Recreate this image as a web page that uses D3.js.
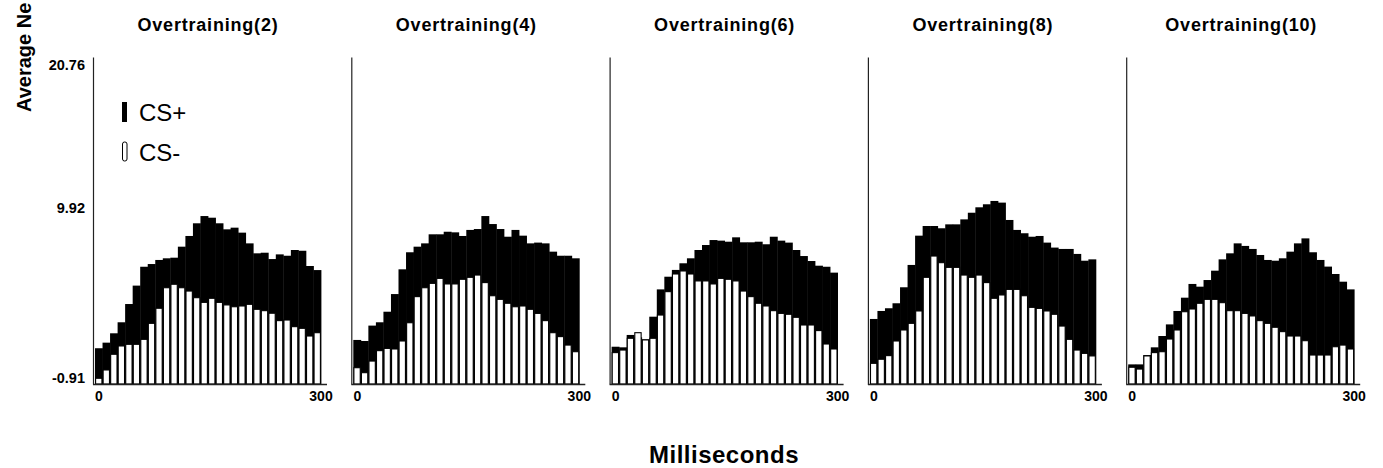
<!DOCTYPE html>
<html>
<head>
<meta charset="utf-8">
<script src="https://cdn.jsdelivr.net/npm/d3@7"></script>
<style>
  body { margin: 0; background: #fff; }
  text { font-family: 'Liberation Sans', Arial, sans-serif; fill: #000; }
</style>
</head>
<body>
<div id="chart"></div>
<script>
// 10 ms bins, 0 - 290 ms
const bins = [0, 10, 20, 30, 40, 50, 60, 70, 80, 90, 100, 110, 120, 130, 140,
    150, 160, 170, 180, 190, 200, 210, 220, 230, 240, 250, 260, 270, 280, 290];

const overtrainingLevels = [2, 4, 6, 8, 10];
const yTicks = [-0.91, 9.92, 20.76];
const xTicks = [0, 300];

// CS+ (black) and CS- (white) responses
const csPlusOT2 = [1.46, 1.83, 2.45, 3.18, 4.39, 5.61, 6.86, 7.04, 7.31, 7.42, 7.46, 8.19, 8.90, 9.74, 10.22,
    10.11, 9.74, 9.34, 9.45, 9.12, 8.41, 7.75, 7.79, 7.37, 7.68, 7.59, 7.97, 7.92, 6.91, 6.64];
const csMinusOT2 = [-0.53, 0.02, 1.06, 1.61, 1.72, 1.72, 2.05, 3.11, 4.11, 5.47, 5.70, 5.47, 5.25, 4.81, 4.50,
    4.77, 4.50, 4.33, 4.21, 4.26, 4.37, 4.04, 3.95, 3.78, 3.29, 3.33, 2.89, 2.78, 2.27, 2.49];

const csPlusOT4 = [2.01, 1.94, 2.96, 3.18, 3.88, 5.05, 6.69, 7.82, 8.19, 8.41, 9.01, 9.01, 9.18, 9.14, 8.90,
    9.30, 9.36, 10.22, 9.69, 9.36, 8.85, 9.30, 8.92, 8.41, 8.46, 8.41, 7.86, 7.59, 7.59, 7.42];
const csMinusOT4 = [0.17, -0.16, 0.61, 1.30, 1.45, 1.41, 1.94, 3.15, 4.88, 5.47, 5.76, 6.09, 5.72, 5.72, 6.03,
    6.16, 6.31, 5.81, 4.94, 4.70, 4.44, 4.21, 4.26, 4.04, 3.77, 3.29, 2.49, 2.23, 1.67, 1.23];

const csPlusOT6 = [1.56, 1.52, 2.34, 2.18, 2.05, 3.55, 5.36, 6.20, 6.65, 7.09, 7.42, 7.97, 8.30, 8.63, 8.59,
    8.52, 8.81, 8.48, 8.48, 8.52, 8.35, 8.85, 8.59, 8.46, 7.97, 7.57, 7.24, 6.93, 6.86, 6.47];
const csMinusOT6 = [1.17, 1.34, 2.12, 2.49, 2.01, 2.12, 3.66, 5.21, 6.38, 6.58, 6.38, 5.92, 5.92, 5.72, 6.09,
    6.03, 5.92, 5.25, 4.88, 4.44, 4.26, 3.95, 3.77, 3.71, 3.51, 3.00, 3.00, 2.63, 1.74, 1.41];

const csPlusOT8 = [3.40, 3.93, 4.11, 4.44, 5.50, 6.98, 8.92, 9.56, 9.56, 9.41, 9.67, 9.67, 10.00, 10.44, 10.80,
    11.00, 11.22, 11.11, 9.96, 9.30, 9.08, 8.85, 8.90, 8.46, 8.13, 8.04, 8.04, 7.71, 7.26, 7.35];
const csMinusOT8 = [0.46, 0.73, 0.97, 1.94, 2.67, 3.11, 3.93, 6.16, 7.57, 7.13, 6.82, 6.82, 6.31, 6.16, 6.31,
    5.81, 4.77, 4.99, 5.36, 5.36, 4.94, 4.17, 4.10, 3.93, 3.71, 2.93, 2.05, 1.34, 1.12, 0.95];

const csPlusOT10 = [0.39, 0.39, 1.01, 1.52, 2.27, 3.04, 3.93, 4.81, 5.72, 5.54, 5.98, 6.60, 7.35, 7.75, 8.41,
    8.24, 8.04, 7.64, 7.31, 7.26, 7.42, 7.86, 8.41, 8.74, 7.82, 7.31, 6.87, 6.38, 5.87, 5.36];
const csMinusOT10 = [0.20, 0.08, 0.95, 1.17, 1.23, 2.07, 2.67, 3.88, 4.06, 4.44, 4.70, 4.70, 4.48, 3.95, 3.95,
    3.77, 3.60, 3.29, 3.11, 2.85, 2.56, 2.27, 2.27, 1.96, 1.01, 1.01, 1.01, 1.56, 1.67, 1.41];

const csPlusSeries = [csPlusOT2, csPlusOT4, csPlusOT6, csPlusOT8, csPlusOT10];
const csMinusSeries = [csMinusOT2, csMinusOT4, csMinusOT6, csMinusOT8, csMinusOT10];

const width = 1383,
    height = 468,
    panelStep = 258.3,
    panelWidth = 226,
    firstPanelX = 95,
    baseY = 384,
    topY = 57;

const svg = d3.select('#chart')
    .append('svg')
    .attr('width', width)
    .attr('height', height)
    .style('background-color', '#fff');

const y = d3.scaleLinear()
    .domain([yTicks[0], yTicks[2]])
    .range([baseY, topY]);

const panelX = d3.scaleLinear()
    .domain([0, overtrainingLevels.length - 1])
    .range([firstPanelX, firstPanelX + panelStep * (overtrainingLevels.length - 1)]);

const x = d3.scaleBand()
    .domain(bins)
    .range([0, panelWidth])
    .padding(0);

const xLin = d3.scaleLinear()
    .domain([xTicks[0], xTicks[1]])
    .range([0, panelWidth]);

// plain hyphen for negatives, like the original figure
const yFormat = d => d.toFixed(2);

overtrainingLevels.forEach((level, i) => {
    const g = svg.append('g')
        .attr('transform', 'translate(' + panelX(i) + ',0)');

    const rows = bins.map((b, j) => ({ bin: b, plus: csPlusSeries[i][j], minus: csMinusSeries[i][j] }));

    // CS+ as solid bars behind
    g.selectAll('rect.plus')
        .data(rows)
        .enter()
        .append('rect')
        .attr('class', 'plus')
        .attr('x', d => x(d.bin))
        .attr('y', d => y(d.plus))
        .attr('width', x.bandwidth() + 0.4)
        .attr('height', d => baseY - y(d.plus))
        .attr('fill', '#000');

    // CS- as outlined white bars in front
    g.selectAll('rect.minus')
        .data(rows)
        .enter()
        .append('rect')
        .attr('class', 'minus')
        .attr('x', d => x(d.bin) + 0.6)
        .attr('y', d => y(d.minus))
        .attr('width', x.bandwidth() - 1.2)
        .attr('height', d => baseY - y(d.minus))
        .attr('fill', '#fff')
        .attr('stroke', '#000')
        .attr('stroke-width', 1.1);

    // y axis line (labels only on first panel)
    const yAxis = g.append('g')
        .attr('transform', 'translate(-2,0)')
        .call(d3.axisLeft(y).tickValues(yTicks).tickSize(0).tickSizeOuter(0)
            .tickFormat(i === 0 ? yFormat : () => ''));
    yAxis.select('.domain').attr('stroke', '#222').attr('stroke-width', 1.2);
    yAxis.selectAll('text')
        .style('font-size', '14.5px')
        .style('font-weight', 'bold')
        .attr('x', -8)
        .attr('dy', (d, k) => k === 0 ? '-0.1em' : k === 1 ? '-0.55em' : '0.85em');

    // baseline
    g.append('line')
        .attr('x1', -2)
        .attr('x2', xLin(xTicks[1]) + 6)
        .attr('y1', baseY + 0.5)
        .attr('y2', baseY + 0.5)
        .attr('stroke', '#222')
        .attr('stroke-width', 1.5);

    g.selectAll('text.xtick')
        .data(xTicks)
        .enter()
        .append('text')
        .attr('class', 'xtick')
        .attr('x', d => xLin(d) + (d === 0 ? 4 : 0))
        .attr('y', baseY + 17)
        .attr('text-anchor', 'middle')
        .style('font-size', '14px')
        .style('font-weight', 'bold')
        .text(d => d);

    g.append('text')
        .attr('x', panelWidth / 2)
        .attr('y', 31)
        .attr('text-anchor', 'middle')
        .style('font-size', '18px')
        .style('font-weight', 'bold')
        .style('letter-spacing', '0.8px')
        .text('Overtraining(' + level + ')');
});

// legend
const legend = svg.append('g').attr('transform', 'translate(122,0)');
legend.append('rect')
    .attr('x', 0).attr('y', 102).attr('width', 5).attr('height', 20)
    .attr('fill', '#000');
legend.append('text')
    .attr('x', 17).attr('y', 121)
    .style('font-size', '24px')
    .text('CS+');
legend.append('rect')
    .attr('x', 0.5).attr('y', 142).attr('width', 4.5).attr('height', 19).attr('rx', 2)
    .attr('fill', '#fff').attr('stroke', '#000').attr('stroke-width', 1);
legend.append('text')
    .attr('x', 17).attr('y', 161)
    .style('font-size', '24px')
    .text('CS-');

// axis titles
svg.append('text')
    .attr('transform', 'translate(31,112) rotate(-90)')
    .style('font-size', '20px')
    .style('font-weight', 'bold')
    .text('Average Ne');

svg.append('text')
    .attr('x', 724)
    .attr('y', 463)
    .attr('text-anchor', 'middle')
    .style('font-size', '24px')
    .style('font-weight', 'bold')
    .style('letter-spacing', '0.5px')
    .text('Milliseconds');
</script>
</body>
</html>
